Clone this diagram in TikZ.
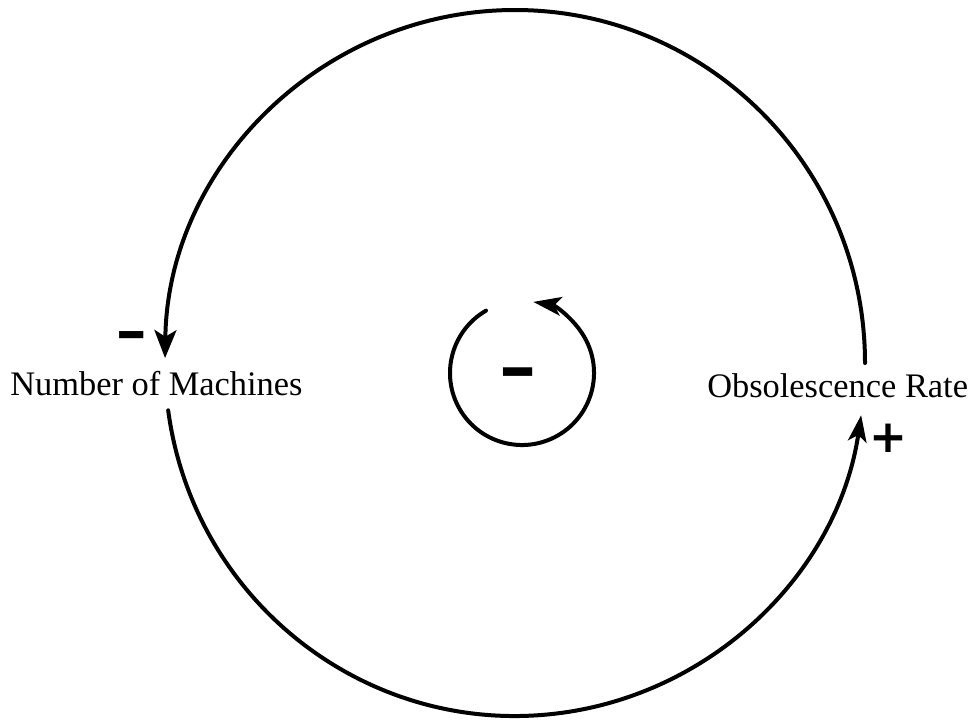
\documentclass[tikz,border=0pt]{standalone}
\usepackage{fontspec}
\setmainfont{Liberation Serif}
\newfontfamily\signfont{DejaVu Sans Bold}
\usetikzlibrary{arrows.meta}
\begin{document}
\begin{tikzpicture}[x=0.75pt,y=-0.75pt,
  loop/.style={line width=3pt, line cap=round},
  bigtip/.style={-{Stealth[length=21pt,width=16.5pt,inset=5pt]}},
  innertip/.style={-{Stealth[length=21pt,width=14pt,inset=5pt]}},
  righttip/.style={-{Stealth[length=20pt,width=14pt,inset=5pt]}},
  label/.style={inner sep=0pt, anchor=base west, font=\fontsize{25.8}{30}\selectfont},
  sign/.style={inner sep=0pt, anchor=base, text=black}]
\useasboundingbox (0,0) rectangle (973,719);
% variables
\node[label] (nm) at (10,395) {Number of Machines};
\node[label] (ob) at (707,397) {Obsolescence Rate};
% arc end points
\coordinate (tS) at (865,363);
\coordinate (bS) at ({515+350*cos(172.3)},{363+353*sin(172.3)});
\coordinate (iS) at ({522+72*cos(240)},{373+72*sin(240)});
% outer loop: Obsolescence Rate -> Number of Machines (top)
\draw[loop,bigtip] (tS) arc[start angle=0, end angle=-179.2, x radius=350, y radius=353];
% outer loop: Number of Machines -> Obsolescence Rate (bottom)
\draw[loop,righttip] (bS) arc[start angle=172.3, end angle=8.5, x radius=350, y radius=353];
% inner loop
\draw[loop,innertip] (iS) arc[start angle=240, end angle=-81, radius=72];
% polarity signs
\node[sign, font=\signfont\fontsize{29}{32}\selectfont] (m1) at (132,354.5) {\scalebox{1}[1.6]{−}};
\node[sign, font=\signfont\fontsize{35}{40}\selectfont] (m2) at (518,395) {\scalebox{1}[1.6]{−}};
\node[sign, font=\signfont\fontsize{34}{38}\selectfont] (p1) at (888,452) {+};
\end{tikzpicture}
\end{document}
